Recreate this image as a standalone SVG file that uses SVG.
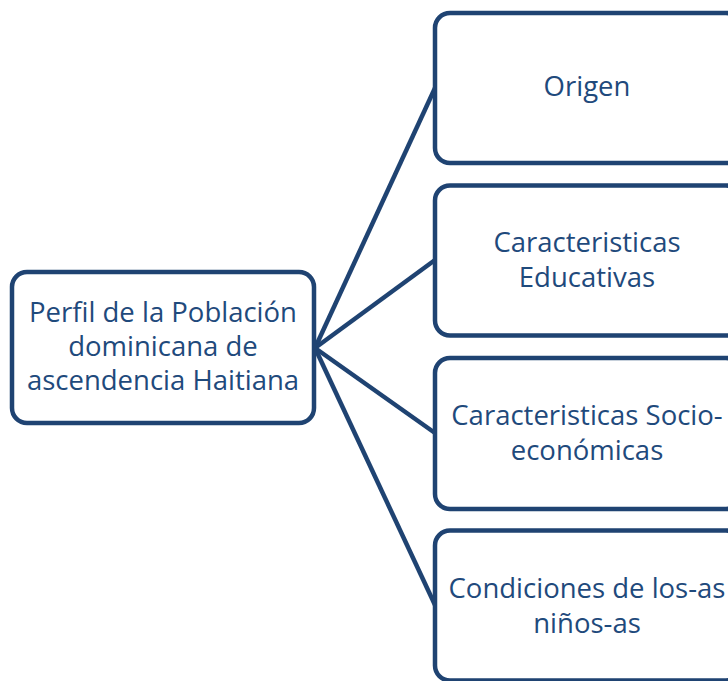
<svg xmlns="http://www.w3.org/2000/svg" width="728" height="681" viewBox="0 0 728 681">
<style>
.box{fill:#ffffff;stroke:#1f4372;stroke-width:4.5}
.conn{stroke:#1f4372;stroke-width:4.5;fill:none}
.t{font-family:"Open Sans","Noto Sans",sans-serif;font-size:27.5px;fill:#1f4a7c;text-anchor:middle}
</style>
<rect width="728" height="681" fill="#ffffff"/>
<g id="connectors">
<line class="conn" x1="315" y1="348" x2="435" y2="88"/>
<line class="conn" x1="315" y1="348" x2="435" y2="260"/>
<line class="conn" x1="315" y1="348" x2="435" y2="433"/>
<line class="conn" x1="315" y1="348" x2="435" y2="605"/>
</g>
<g id="root">
<rect class="box" x="12" y="272" width="302" height="151" rx="15"/>
<text class="t" x="163" y="322">Perfil de la Población</text>
<text class="t" x="163" y="356">dominicana de</text>
<text class="t" x="163" y="390">ascendencia Haitiana</text>
</g>
<g id="origen">
<rect class="box" x="435" y="13" width="306" height="150" rx="15"/>
<text class="t" x="587" y="96">Origen</text>
</g>
<g id="educativas">
<rect class="box" x="435" y="185.5" width="306" height="150" rx="15"/>
<text class="t" x="587" y="252">Caracteristicas</text>
<text class="t" x="587" y="287">Educativas</text>
</g>
<g id="socioeconomicas">
<rect class="box" x="435" y="358" width="306" height="151" rx="15"/>
<text class="t" x="587" y="425">Caracteristicas Socio-</text>
<text class="t" x="587" y="460">económicas</text>
</g>
<g id="condiciones">
<rect class="box" x="435" y="530.5" width="306" height="150" rx="15"/>
<text class="t" x="587" y="598">Condiciones de los-as</text>
<text class="t" x="587" y="633">niños-as</text>
</g>
</svg>
